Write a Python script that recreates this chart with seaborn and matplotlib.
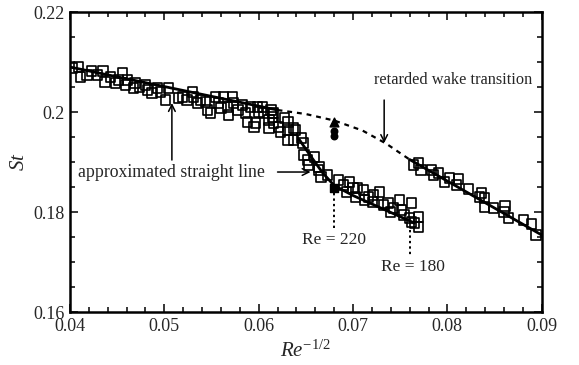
import matplotlib
matplotlib.use("Agg")
import matplotlib.pyplot as plt
import seaborn as sns
import numpy as np
import pandas as pd
from matplotlib.ticker import MultipleLocator

# ---------------- data ----------------
main_x = [0.0403,0.0409,0.0411,0.0418,0.0423,0.0429,0.0435,0.0437,0.0443,0.0448,0.0451,0.0456,0.0459,0.0461,
          0.0467,0.0469,0.0474,0.0480,0.0482,0.0487,0.0493,0.0496,0.0501,0.0504,0.0515,0.0519,0.0524,0.0530,
          0.0531,0.0535,0.0538,0.0544,0.0546,0.0549,0.0554,0.0557,0.0560,0.0563,0.0567,0.0568,0.0572,0.0573,
          0.0578,0.0583,0.0586,0.0588,0.0591,0.0595,0.0599,
          0.0604,0.0600,0.0605,0.0597,0.0611,0.0615,0.0616,0.0611,0.0621,0.0623,0.0631,0.0637,0.0613,0.0616,
          0.0627,0.0631,0.0639,0.0631,0.0637,0.0645,0.0647]
main_y = [0.2088,0.2090,0.2070,0.2074,0.2082,0.2074,0.2082,0.2060,0.2070,0.2058,0.2064,0.2078,0.2054,0.2064,
          0.2048,0.2058,0.2050,0.2054,0.2044,0.2038,0.2048,0.2040,0.2024,0.2048,0.2028,0.2030,0.2024,0.2040,
          0.2030,0.2018,0.2024,0.2020,0.2004,0.1998,0.2030,0.2018,0.2008,0.2030,0.2010,0.1994,0.2030,0.2018,
          0.2004,0.2014,0.1998,0.1980,0.2010,0.1970,0.2010,
          0.2010,0.2000,0.1998,0.1978,0.1984,0.1990,0.1978,0.1968,0.1970,0.1960,0.1964,0.1968,0.2004,0.1998,
          0.1988,0.1980,0.1964,0.1944,0.1944,0.1948,0.1938]

steep_x = [0.0648,0.0652,0.0659,0.0653,0.0663,0.0666,0.0673,0.0664,0.0685,0.0690,0.0696,0.0700,0.0693,0.0703,
           0.0705,0.0711,0.0712,0.0716,0.0721,0.0722,0.0728,0.0732,0.0737,0.0740,0.0743,0.0749,0.0751,0.0762,
           0.0754,0.0760,0.0765,0.0769,0.0769,0.0762]
steep_y = [0.1914,0.1904,0.1910,0.1894,0.1884,0.1870,0.1874,0.1890,0.1864,0.1854,0.1860,0.1848,0.1840,0.1830,
           0.1848,0.1844,0.1824,0.1830,0.1820,0.1834,0.1840,0.1814,0.1818,0.1800,0.1808,0.1824,0.1804,0.1818,
           0.1794,0.1788,0.1778,0.1770,0.1790,0.1780]

right_x = [0.0764,0.0769,0.0772,0.0783,0.0785,0.0791,0.0797,0.0802,0.0812,0.0810,0.0822,0.0836,0.0834,0.0839,
           0.0839,0.0849,0.0861,0.0860,0.0865,0.0881,0.0889,0.0894]
right_y = [0.1894,0.1898,0.1884,0.1884,0.1874,0.1878,0.1860,0.1868,0.1866,0.1854,0.1846,0.1838,0.1830,0.1828,
           0.1810,0.1808,0.1812,0.1800,0.1788,0.1784,0.1776,0.1754]

filled_sq_x = [0.0680]
filled_sq_y = [0.1848]
tri_x = [0.0680]
tri_y = [0.1980]
dot_x = [0.0680, 0.0680]
dot_y = [0.1962, 0.1953]

# fitted lines
left_line_x = [0.0400, 0.0620]
left_line_y = [0.2090, 0.2004]
wake_x = [0.0620, 0.0650, 0.0680, 0.0710, 0.0735, 0.0760]
wake_y = [0.2004, 0.1996, 0.1983, 0.1963, 0.1937, 0.1905]
right_line_x = [0.0760, 0.0900]
right_line_y = [0.1905, 0.1754]
steep_line_x = [0.0643, 0.0655, 0.0668, 0.0680, 0.0700, 0.0765]
steep_line_y = [0.1945, 0.1912, 0.1878, 0.1853, 0.1833, 0.1778]

x_ticks = [0.04, 0.05, 0.06, 0.07, 0.08, 0.09]
x_tick_labels = ["0.04", "0.05", "0.06", "0.07", "0.08", "0.09"]
y_ticks = [0.16, 0.18, 0.20, 0.22]
y_tick_labels = ["0.16", "0.18", "0.2", "0.22"]

# ---------------- style ----------------
sns.set_style("ticks")
plt.rcParams['font.family'] = ['Liberation Serif', 'DejaVu Serif']
plt.rcParams['mathtext.fontset'] = 'custom'
plt.rcParams['mathtext.it'] = 'Liberation Serif:italic'
plt.rcParams['mathtext.rm'] = 'Liberation Serif'

fig = plt.figure(figsize=(5.79, 3.65), dpi=100)
ax = fig.add_axes([0.1209, 0.1452, 0.8147, 0.8218])

pts = pd.DataFrame({"x": main_x + steep_x + right_x, "y": main_y + steep_y + right_y})
sns.scatterplot(data=pts, x="x", y="y", ax=ax, marker="s", s=44,
                facecolors="none", edgecolors="black", linewidth=1.2, zorder=3)

lw = 2.0
sns.lineplot(x=left_line_x, y=left_line_y, ax=ax, color="black", lw=lw, zorder=4)
sns.lineplot(x=wake_x, y=wake_y, ax=ax, color="black", lw=1.6, linestyle=(0, (2.2, 2.2)), zorder=4)
sns.lineplot(x=right_line_x, y=right_line_y, ax=ax, color="black", lw=lw, zorder=4)
sns.lineplot(x=steep_line_x, y=steep_line_y, ax=ax, color="black", lw=lw, zorder=4)

ax.scatter(filled_sq_x, filled_sq_y, marker="s", s=40, color="black", zorder=5)
ax.scatter(tri_x, tri_y, marker="^", s=40, color="black", zorder=5)
ax.scatter(dot_x, dot_y, marker="o", s=22, color="black", zorder=5)

# Re markers (dotted vertical lines)
ax.plot([0.0680, 0.0680], [0.1838, 0.1768], color="black", lw=1.4, linestyle=(0, (1.2, 1.6)))
ax.plot([0.0760, 0.0760], [0.1764, 0.1714], color="black", lw=1.4, linestyle=(0, (1.2, 1.6)))
ax.text(0.0680, 0.1744, "Re = 220", ha="center", va="center", fontsize=12.5)
ax.text(0.0763, 0.1690, "Re = 180", ha="center", va="center", fontsize=12.5)

# annotations
arrow = dict(arrowstyle="->", color="black", lw=1.1, shrinkA=0, shrinkB=0,
             mutation_scale=12)
ax.text(0.0806, 0.2064, "retarded wake transition", ha="center", va="center", fontsize=11.8)
ax.annotate("", xy=(0.0733, 0.1938), xytext=(0.0733, 0.2024), arrowprops=arrow)
ax.text(0.0409, 0.1880, "approximated straight line", ha="left", va="center", fontsize=12.8)
ax.annotate("", xy=(0.0508, 0.2018), xytext=(0.0508, 0.1904), arrowprops=arrow)
ax.annotate("", xy=(0.0655, 0.1880), xytext=(0.0620, 0.1880), arrowprops=arrow)

# axes
ax.set_xlim(0.04, 0.09)
ax.set_ylim(0.16, 0.22)
ax.set_xticks(x_ticks)
ax.set_xticklabels(x_tick_labels)
ax.set_yticks(y_ticks)
ax.set_yticklabels(y_tick_labels)
ax.xaxis.set_minor_locator(MultipleLocator(0.002))
ax.yaxis.set_minor_locator(MultipleLocator(0.005))
ax.tick_params(which="both", direction="in", top=True, right=True, color="black", width=1.1)
ax.tick_params(which="major", length=6, labelsize=13, pad=4)
ax.tick_params(which="minor", length=3.5)
for s in ax.spines.values():
    s.set_linewidth(1.8)
    s.set_color("black")
ax.set_xlabel(r"$Re^{-1/2}$", fontsize=15, labelpad=4)
ax.set_ylabel(r"$St$", fontsize=15, labelpad=3)

fig.savefig("out.png", dpi=100)
